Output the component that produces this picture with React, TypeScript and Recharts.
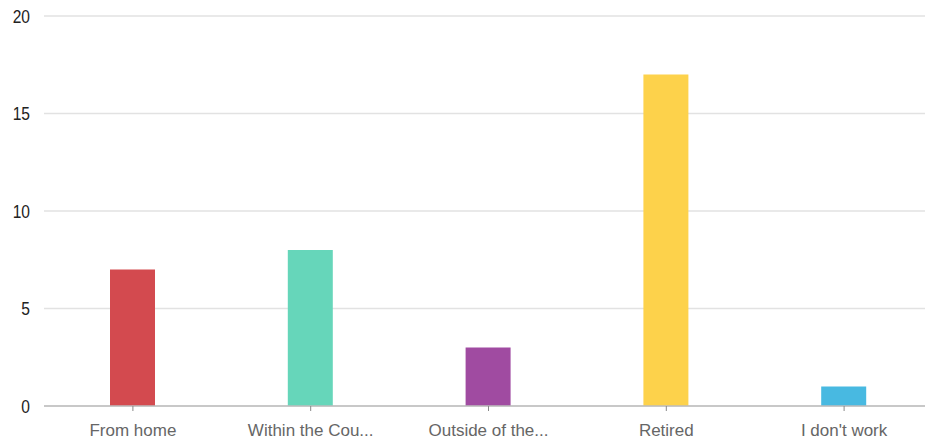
import { BarChart, Bar, Cell, XAxis, YAxis, CartesianGrid } from 'recharts';

const categories = ['From home', 'Within the Cou...', 'Outside of the...', 'Retired', "I don't work"];
const counts = [7, 8, 3, 17, 1];
const yTicks = [0, 5, 10, 15, 20];

const COLORS = ['#d34a4f', '#66d6ba', '#a04ba1', '#fdd24b', '#48b9e1'];

const data = categories.map((name, i) => ({ name, value: counts[i] }));

// y labels in the picture are narrow and tall, so squeeze them a bit
const YTick = ({ x, y, payload }: any) => (
  <text
    transform={`translate(${x},${y}) scale(0.82,1)`}
    textAnchor="end"
    dy="0.36em"
    fontSize={19}
    fill="#222"
    fontFamily="Liberation Sans, Arial, sans-serif"
  >
    {payload.value}
  </text>
);

const App = () => (
  <div style={{ position: 'fixed', left: 0, top: 0, width: 925, height: 444, overflow: 'hidden', background: '#fff' }}>
    <BarChart
      width={945}
      height={444}
      data={data}
      margin={{ top: 16, right: 12, bottom: 0, left: 0 }}
      barCategoryGap={0}
    >
      <CartesianGrid vertical={false} stroke="#e2e2e2" strokeWidth={1.5} />
      <XAxis
        dataKey="name"
        height={38}
        interval={0}
        axisLine={{ stroke: '#bdbdbd', strokeWidth: 1.5 }}
        tickLine={{ stroke: '#888' }}
        tickSize={5}
        tickMargin={13}
        tick={{ fontSize: 17, fill: '#666', fontFamily: 'Liberation Sans, Arial, sans-serif' }}
      />
      <YAxis
        width={44}
        domain={[0, 20]}
        ticks={yTicks}
        axisLine={false}
        tickLine={false}
        tickSize={0}
        tickMargin={14}
        tick={<YTick />}
      />
      <Bar dataKey="value" barSize={45} isAnimationActive={false}>
        {data.map((d, i) => (
          <Cell key={d.name} fill={COLORS[i]} />
        ))}
      </Bar>
    </BarChart>
  </div>
);

export default App;
